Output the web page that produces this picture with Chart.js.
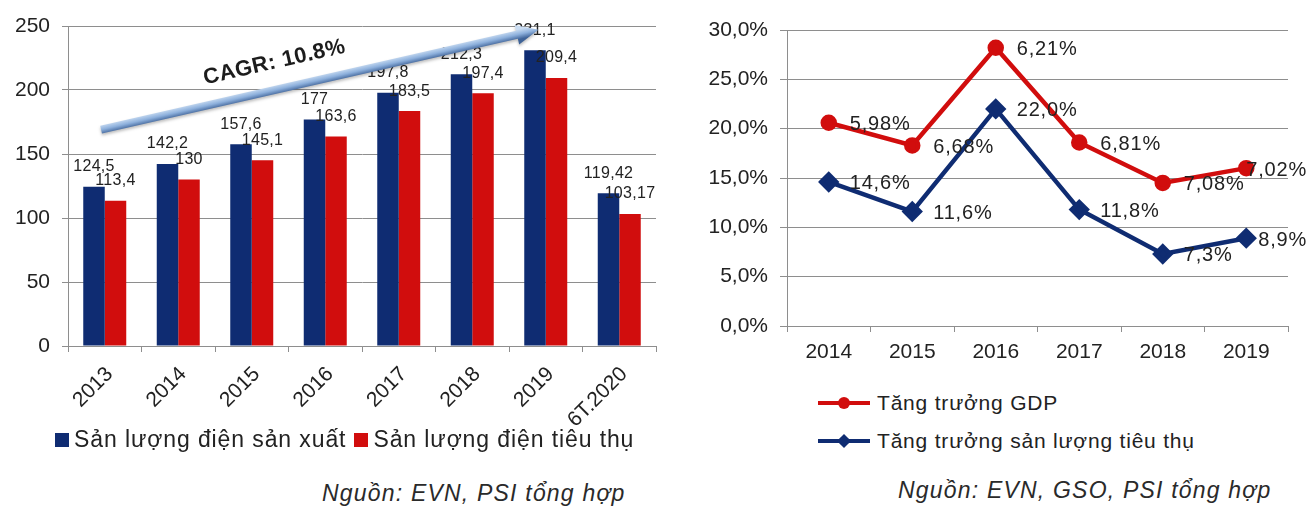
<!DOCTYPE html>
<html>
<head>
<meta charset="utf-8">
<script src="https://cdn.jsdelivr.net/npm/chart.js@4.4.1/dist/chart.umd.min.js"></script>
<style>
  html, body { margin: 0; padding: 0; background: #fff; }
  body { width: 1311px; height: 508px; position: relative; overflow: hidden;
         font-family: "Liberation Sans", Arial, sans-serif; color: #222; }
  #leftBox { position: absolute; left: 0; top: 0; width: 660px; height: 450px; }
  #rightBox { position: absolute; left: 660px; top: 0; width: 651px; height: 380px; }
  .legend-bars { position: absolute; left: 55px; top: 426px; display: flex; align-items: center;
                 font-size: 23px; letter-spacing: 0.9px; white-space: nowrap; }
  .legend-bars .item { display: flex; align-items: center; margin-right: 8px; }
  .legend-bars .sw { width: 14px; height: 14px; margin-right: 5px; }
  .legend-lines { position: absolute; left: 818px; top: 384px; font-size: 21px; letter-spacing: 0.8px;
                  white-space: nowrap; }
  .legend-lines .item { display: flex; align-items: center; height: 38px; }
  .legend-lines .sym { position: relative; width: 52px; height: 14px; margin-right: 7px; }
  .legend-lines .sym .ln { position: absolute; left: 0; top: 5px; width: 52px; height: 4px; }
  .legend-lines .sym .mk { position: absolute; }
  .source { position: absolute; font-style: italic; font-size: 23px; letter-spacing: 1.2px;
            color: #2a2a2a; white-space: nowrap; }
</style>
</head>
<body>
<div id="leftBox"><canvas id="energyChart"></canvas></div>
<div id="rightBox"><canvas id="growthChart"></canvas></div>
<div class="legend-bars" id="barLegend"></div>
<div class="legend-lines" id="lineLegend"></div>
<div class="source" id="srcLeft" style="left:322px; top:480px;"></div>
<div class="source" id="srcRight" style="left:898px; top:477px;"></div>

<script>
// ---- Electricity output and consumption (TWh) ----
const years = ['2013', '2014', '2015', '2016', '2017', '2018', '2019', '6T.2020'];
const productionTWh = [124.5, 142.2, 157.6, 177, 197.8, 212.3, 231.1, 119.42];
const consumptionTWh = [113.4, 130, 145.1, 163.6, 183.5, 197.4, 209.4, 103.17];
const barSeriesNames = ['Sản lượng điện sản xuất', 'Sản lượng điện tiêu thụ'];
const cagrText = 'CAGR: 10.8%';
const energyTicks = [0, 50, 100, 150, 200, 250];

// ---- Growth rates (%) ----
const growthYears = ['2014', '2015', '2016', '2017', '2018', '2019'];
const gdpLine = [20.6, 18.3, 28.2, 18.6, 14.5, 16.0];
const gdpGrowthText = ['5,98%', '6,68%', '6,21%', '6,81%', '7,08%', '7,02%'];
const consumptionGrowth = [14.6, 11.6, 22.0, 11.8, 7.3, 8.9];
const lineSeriesNames = ['Tăng trưởng GDP', 'Tăng trưởng sản lượng tiêu thụ'];
const growthTicks = [0, 5, 10, 15, 20, 25, 30];

const sourceLeft = 'Nguồn: EVN, PSI tổng hợp';
const sourceRight = 'Nguồn: EVN, GSO, PSI tổng hợp';

// ---- styling ----
const FONT = '"Liberation Sans", Arial, sans-serif';
const NAVY = '#0f2c72';
const RED = '#d10d0d';
const GRID = '#8e8e8e';
const TEXT = '#222222';

const fmtComma = v => String(v).replace('.', ',');

// Value labels above each bar
const barValueLabels = {
  id: 'barValueLabels',
  afterDatasetsDraw(chart) {
    const ctx = chart.ctx;
    ctx.save();
    ctx.font = '16px ' + FONT;
    ctx.letterSpacing = '0.3px';
    ctx.fillStyle = TEXT;
    ctx.textAlign = 'center';
    ctx.textBaseline = 'middle';
    chart.data.datasets.forEach((ds, di) => {
      chart.getDatasetMeta(di).data.forEach((bar, i) => {
        ctx.fillText(fmtComma(ds.data[i]), bar.x, bar.y - 20);
      });
    });
    ctx.restore();
  }
};

// Trend arrow with the CAGR caption
const cagrArrow = {
  id: 'cagrArrow',
  afterDraw(chart) {
    const xs = chart.scales.x, ys = chart.scales.y, ctx = chart.ctx;
    const x0 = xs.getPixelForValue(-0.05), y0 = ys.getPixelForValue(169);
    const x1 = xs.getPixelForValue(5.9), y1 = ys.getPixelForValue(247);
    const ang = Math.atan2(y1 - y0, x1 - x0);
    const len = Math.hypot(x1 - x0, y1 - y0);
    ctx.save();
    ctx.translate(x0, y0);
    ctx.rotate(ang);
    const g = ctx.createLinearGradient(0, -5, 0, 5);
    g.addColorStop(0, '#c9dcf2');
    g.addColorStop(0.5, '#8db0dc');
    g.addColorStop(1, '#3f6398');
    ctx.shadowColor = 'rgba(0,0,0,0.25)';
    ctx.shadowBlur = 3;
    ctx.shadowOffsetY = 2;
    ctx.fillStyle = g;
    const headL = 22, headW = 10, shaft = 4;
    ctx.beginPath();
    ctx.moveTo(0, -shaft);
    ctx.lineTo(len - headL, -shaft);
    ctx.lineTo(len - headL, -headW);
    ctx.lineTo(len, 0);
    ctx.lineTo(len - headL, headW);
    ctx.lineTo(len - headL, shaft);
    ctx.lineTo(0, shaft);
    ctx.closePath();
    ctx.fill();
    ctx.shadowColor = 'transparent';
    // caption above the shaft
    ctx.font = 'bold 22px ' + FONT;
    ctx.letterSpacing = '0.4px';
    ctx.fillStyle = '#1c1c1c';
    ctx.textAlign = 'center';
    ctx.textBaseline = 'middle';
    ctx.fillText(cagrText, len * 0.41, -27);
    ctx.restore();
  }
};

new Chart(document.getElementById('energyChart'), {
  type: 'bar',
  data: {
    labels: years,
    datasets: [
      { label: barSeriesNames[0], data: productionTWh, backgroundColor: NAVY },
      { label: barSeriesNames[1], data: consumptionTWh, backgroundColor: RED }
    ]
  },
  options: {
    responsive: true, maintainAspectRatio: false, animation: false,
    categoryPercentage: 0.585, barPercentage: 1.0,
    layout: { padding: { top: 26, right: 4, left: 0, bottom: 0 } },
    plugins: { legend: { display: false }, tooltip: { enabled: false } },
    scales: {
      x: {
        grid: { drawOnChartArea: false, drawTicks: true, tickLength: 6, color: GRID, offset: true },
        border: { display: true, color: GRID, width: 1 },
        ticks: { font: { size: 21, family: FONT }, color: TEXT, minRotation: 45, maxRotation: 45,
                 autoSkip: false, padding: 10, labelOffset: 5 },
        afterFit(s) { s.height = 104; }
      },
      y: {
        min: 0, max: 250,
        afterBuildTicks(s) { s.ticks = energyTicks.map(v => ({ value: v })); },
        grid: { color: GRID, tickLength: 6, drawTicks: true },
        border: { display: true, color: GRID, width: 1 },
        ticks: { font: { size: 21, family: FONT }, color: TEXT, padding: 12 },
        afterFit(s) { s.width = 68; }
      }
    }
  },
  plugins: [barValueLabels, cagrArrow]
});

// Labels beside line points
const pointLabels = {
  id: 'pointLabels',
  afterDatasetsDraw(chart) {
    const ctx = chart.ctx;
    ctx.save();
    ctx.font = '20px ' + FONT;
    ctx.letterSpacing = '0.8px';
    ctx.fillStyle = TEXT;
    ctx.textAlign = 'left';
    ctx.textBaseline = 'middle';
    chart.data.datasets.forEach((ds, di) => {
      chart.getDatasetMeta(di).data.forEach((pt, i) => {
        const txt = di === 0 ? gdpGrowthText[i] : ds.data[i].toFixed(1).replace('.', ',') + '%';
        const w = ctx.measureText(txt).width;
        let x = pt.x + 21;
        if (x + w > chart.width - 4) x = chart.width - 4 - w;
        ctx.fillText(txt, x, pt.y + 2);
      });
    });
    ctx.restore();
  }
};

new Chart(document.getElementById('growthChart'), {
  type: 'line',
  data: {
    labels: growthYears,
    datasets: [
      { label: lineSeriesNames[0], data: gdpLine, borderColor: RED, backgroundColor: RED,
        borderWidth: 4.5, pointStyle: 'circle', pointRadius: 6, pointBorderColor: RED,
        pointBackgroundColor: RED, tension: 0, clip: false },
      { label: lineSeriesNames[1], data: consumptionGrowth, borderColor: NAVY, backgroundColor: NAVY,
        borderWidth: 4.5, pointStyle: 'rectRot', pointRadius: 7.5, pointBorderColor: NAVY,
        pointBackgroundColor: NAVY, tension: 0, clip: false }
    ]
  },
  options: {
    responsive: true, maintainAspectRatio: false, animation: false,
    layout: { padding: { top: 30, right: 23, left: 0, bottom: 0 } },
    plugins: { legend: { display: false }, tooltip: { enabled: false } },
    scales: {
      x: {
        offset: true,
        grid: { drawOnChartArea: false, drawTicks: true, tickLength: 6, color: GRID, offset: true },
        border: { display: true, color: GRID, width: 1 },
        ticks: { font: { size: 21, family: FONT }, color: TEXT, maxRotation: 0, padding: 8 },
        afterFit(s) { s.height = 54; }
      },
      y: {
        min: 0, max: 30,
        afterBuildTicks(s) { s.ticks = growthTicks.map(v => ({ value: v })); },
        grid: { color: GRID, tickLength: 7, drawTicks: true },
        border: { display: true, color: GRID, width: 1 },
        ticks: { font: { size: 21, family: FONT }, color: TEXT, padding: 12,
                 callback: v => v.toFixed(1).replace('.', ',') + '%' },
        afterFit(s) { s.width = 127; }
      }
    }
  },
  plugins: [pointLabels]
});

// HTML legends and source notes
const barLegend = document.getElementById('barLegend');
[NAVY, RED].forEach((c, i) => {
  const it = document.createElement('div');
  it.className = 'item';
  it.innerHTML = '<div class="sw" style="background:' + c + '"></div><span></span>';
  it.querySelector('span').textContent = barSeriesNames[i];
  barLegend.appendChild(it);
});

const lineLegend = document.getElementById('lineLegend');
[RED, NAVY].forEach((c, i) => {
  const it = document.createElement('div');
  it.className = 'item';
  const mk = i === 0
    ? '<div class="mk" style="left:20px;top:1px;width:12px;height:12px;border-radius:50%;background:' + c + '"></div>'
    : '<div class="mk" style="left:21px;top:2px;width:10px;height:10px;transform:rotate(45deg);background:' + c + '"></div>';
  it.innerHTML = '<div class="sym"><div class="ln" style="background:' + c + '"></div>' + mk + '</div><span></span>';
  it.querySelector('span').textContent = lineSeriesNames[i];
  lineLegend.appendChild(it);
});

document.getElementById('srcLeft').textContent = sourceLeft;
document.getElementById('srcRight').textContent = sourceRight;
</script>
</body>
</html>
